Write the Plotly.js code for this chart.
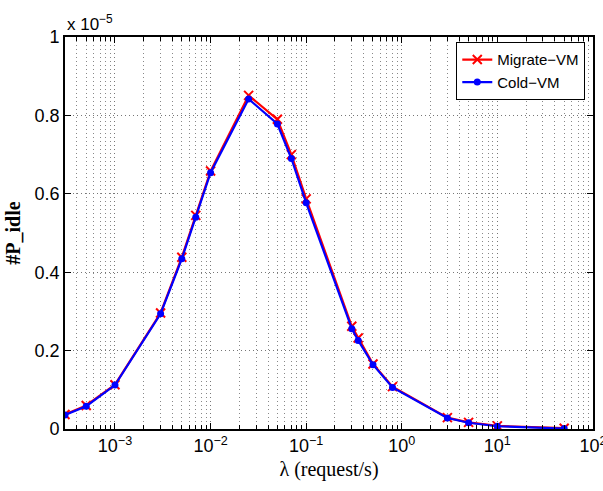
<!DOCTYPE html>
<html><head><meta charset="utf-8">
<script src="https://cdn.plot.ly/plotly-3.0.1.min.js"></script>
<style>body{margin:0;background:#fff}#plot{width:603px;height:491px}</style>
</head><body><div id="plot"></div>
<script>
// lambda (request/s)
const lambda = [3e-4, 5e-4, 1e-3, 3e-3, 5e-3, 7e-3, 1e-2, 2.5e-2, 5e-2, 7e-2, 1e-1, 0.3, 0.35, 0.5, 0.8, 3, 5, 10, 50];
// #P_idle in units of 1e-5
const migrateVM = [0.037, 0.060, 0.113, 0.296, 0.438, 0.545, 0.658, 0.851, 0.790, 0.700, 0.587, 0.262, 0.232, 0.166, 0.108, 0.029, 0.017, 0.008, 0.002];
const coldVM    = [0.036, 0.058, 0.112, 0.294, 0.434, 0.540, 0.654, 0.842, 0.778, 0.690, 0.577, 0.256, 0.226, 0.164, 0.106, 0.028, 0.016, 0.007, 0.001];
const yTicks = [0, 0.2, 0.4, 0.6, 0.8, 1];
const yTickText = ['0', '0.2', '0.4', '0.6', '0.8', '1'];
const xTicks = [1e-3, 1e-2, 1e-1, 1, 10, 100];
const xTickText = ['10<sup>−3</sup>', '10<sup>−2</sup>', '10<sup>−1</sup>', '10<sup>0</sup>', '10<sup>1</sup>', '10<sup>2</sup>'];
const decades = [1e-4, 1e-3, 1e-2, 1e-1, 1, 10];
const mantissas = [2, 3, 4, 5, 6, 7, 8, 9];
const xMinor = [];
decades.forEach(d => mantissas.forEach(m => xMinor.push(m * d)));

const traces = [
  {x: lambda, y: migrateVM, name: 'Migrate−VM', mode: 'lines+markers',
   line: {color: '#ff0000', width: 2.2}, marker: {symbol: 'x-thin-open', size: 9, color: '#ff0000', line: {color: '#ff0000', width: 2}}},
  {x: lambda, y: coldVM, name: 'Cold−VM', mode: 'lines+markers',
   line: {color: '#0000ff', width: 2.2}, marker: {symbol: 'circle', size: 7, color: '#0000ff'}}
];
const sans = 'Liberation Sans, Arial, sans-serif';
const axFont = {family: sans, size: 18, color: '#000'};
const gridDash = '1px,3px';
const layout = {
  width: 603, height: 491,
  margin: {l: 65, r: 10, t: 37, b: 62},
  paper_bgcolor: '#fff', plot_bgcolor: '#fff',
  showlegend: true,
  legend: {x: 0.985, y: 0.987, xanchor: 'right', yanchor: 'top', bgcolor: '#fff',
    bordercolor: '#000', borderwidth: 1.2, font: {family: sans, size: 15, color: '#000'},
    tracegroupgap: 0, itemwidth: 30},
  xaxis: {type: 'log', range: [Math.log10(3e-4), 2.0005], tickmode: 'array', tickvals: xTicks, ticktext: xTickText,
    tickfont: axFont, ticklabeloverflow: 'allow', ticks: 'inside', ticklen: 6, tickcolor: '#000', showline: true, linecolor: '#000', linewidth: 1.8,
    mirror: 'ticks', showgrid: true, gridcolor: '#777', griddash: gridDash, gridwidth: 1, zeroline: false,
    minor: {tickmode: 'array', tickvals: xMinor, showgrid: true, gridcolor: '#888', griddash: gridDash, gridwidth: 1,
      ticks: 'inside', ticklen: 4, tickcolor: '#000'},
    title: {text: 'λ (request/s)', font: {family: 'Liberation Serif, Times New Roman, serif', size: 20, color: '#000'}, standoff: 6}},
  yaxis: {range: [0, 1], tickmode: 'array', tickvals: yTicks, ticktext: yTickText, tickfont: axFont,
    ticks: 'inside', ticklen: 6, tickcolor: '#000', showline: true, linecolor: '#000', linewidth: 1.8, mirror: 'ticks',
    showgrid: true, gridcolor: '#777', griddash: gridDash, gridwidth: 1, zeroline: false,
    title: {text: '<b>#P_idle</b>', font: {family: 'Liberation Serif, Times New Roman, serif', size: 20, color: '#000'}, standoff: 8}},
  annotations: [{xref: 'paper', yref: 'paper', x: 0, y: 1, xanchor: 'left', yanchor: 'bottom', yshift: 1, xshift: 0,
    showarrow: false, text: 'x 10<sup>−5</sup>', font: {family: sans, size: 17, color: '#000'}}]
};
Plotly.newPlot('plot', traces, layout, {displayModeBar: false, staticPlot: true});
</script></body></html>
